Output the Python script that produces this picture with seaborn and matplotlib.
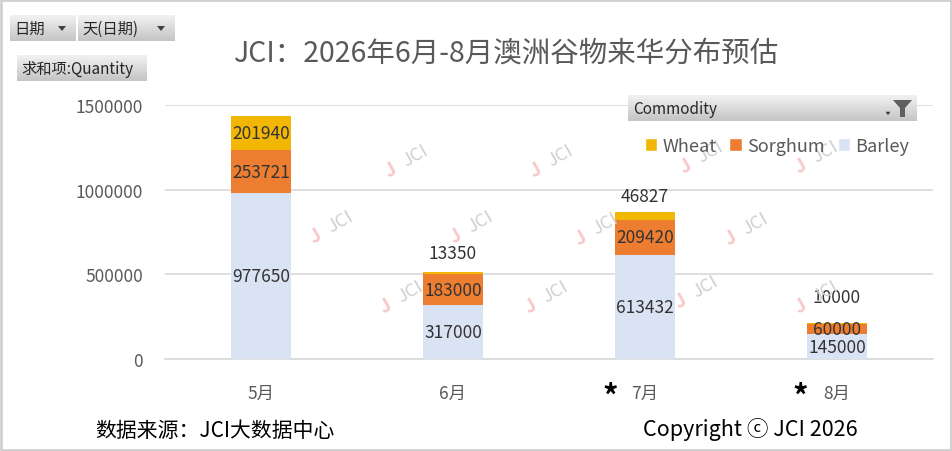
import matplotlib
matplotlib.use("Agg")
import matplotlib.pyplot as plt
import seaborn as sns
import pandas as pd
import numpy as np
from matplotlib.patches import Rectangle, Polygon, Patch
from matplotlib.colors import LinearSegmentedColormap

# ---------------- data ----------------
months = ["5月", "6月", "7月", "8月"]
barley = [977650, 317000, 613432, 145000]
sorghum = [253721, 183000, 209420, 60000]
wheat = [201940, 13350, 46827, 10000]
series_names = ["Wheat", "Sorghum", "Barley"]
yticks = [0, 500000, 1000000, 1500000]
title = "JCI：2026年6月-8月澳洲谷物来华分布预估"
source_text = "数据来源：JCI大数据中心"
copyright_text = "Copyright ⓒ JCI 2026"

# ---------------- style ----------------
sns.set_theme(style="white")
FONT = ["Noto Sans CJK SC", "DejaVu Sans"]
plt.rcParams["font.family"] = FONT
C_WHEAT = "#F2B705"
C_SORG = "#ED7D31"
C_BARL = "#DAE3F3"
GRID = "#D9D9D9"
TXT = "#595959"

W, H = 953, 452
fig = plt.figure(figsize=(W / 100, H / 100), dpi=100)
fig.patch.set_facecolor("white")

def fx(px):
    return px / W

def fy(py):
    return 1 - py / H

ax = fig.add_axes([fx(165), fy(360), fx(933) - fx(165), fy(106) - fy(360)])

df = pd.DataFrame({"month": months, "Barley": barley, "Sorghum": sorghum, "Wheat": wheat})
df["s2"] = df["Barley"] + df["Sorghum"]
df["s3"] = df["s2"] + df["Wheat"]

bw = 60 / 192
bar_kw = dict(width=bw, ax=ax, saturation=1, linewidth=0, edgecolor="none", zorder=3)
sns.barplot(data=df, x="month", y="s3", color=C_WHEAT, **bar_kw)
sns.barplot(data=df, x="month", y="s2", color=C_SORG, **bar_kw)
sns.barplot(data=df, x="month", y="Barley", color=C_BARL, **bar_kw)

ax.set_ylim(0, 1500000)
ax.set_xlim(-0.5, 3.5)
ax.set_yticks(yticks)
ax.set_yticklabels([str(v) for v in yticks])
ax.set_xlabel("")
ax.set_ylabel("")
ax.yaxis.grid(True, color=GRID, linewidth=1.2, zorder=0)
ax.set_axisbelow(True)
for s in ["top", "right", "left"]:
    ax.spines[s].set_visible(False)
ax.spines["bottom"].set_color(GRID)
ax.spines["bottom"].set_linewidth(1.2)
ax.tick_params(axis="both", length=0, colors=TXT, labelsize=12.5)
ax.tick_params(axis="y", pad=16)
ax.tick_params(axis="x", pad=18)
for t in ax.get_xticklabels() + ax.get_yticklabels():
    t.set_color(TXT)

# data labels
lab_kw = dict(ha="center", va="center", fontsize=12.5, color="#333333", zorder=6)
wheat_offsets = [None, 19, 16, 26]  # px above the stack top for small segments
for i in range(len(months)):
    ax.text(i, barley[i] / 2, str(barley[i]), **lab_kw)
    ax.text(i, barley[i] + sorghum[i] / 2, str(sorghum[i]), **lab_kw)
    top = barley[i] + sorghum[i] + wheat[i]
    if wheat_offsets[i] is None:
        ax.text(i, barley[i] + sorghum[i] + wheat[i] / 2, str(wheat[i]), **lab_kw)
    else:
        ax.annotate(str(wheat[i]), (i, top), xytext=(0, wheat_offsets[i] * 0.72),
                    textcoords="offset points", **lab_kw)

# watermarks
wm = [(405, 162), (550, 162), (700, 158), (815, 158),
      (330, 228), (470, 228), (595, 230), (745, 230),
      (400, 298), (545, 298), (695, 293), (815, 298)]
for (x, y) in wm:
    fig.text(fx(x - 14), fy(y + 8), "J", fontsize=14, color="#F8C8C8", rotation=30,
             ha="center", va="center", fontweight="bold", zorder=5)
    fig.text(fx(x + 10), fy(y - 6), "JCI", fontsize=13, color="#D0D0D0", rotation=30,
             ha="center", va="center", zorder=5)

# title
fig.text(fx(507), fy(54), title, fontsize=20.5, color=TXT, ha="center", va="center")

# legend
handles = [Patch(facecolor=C_WHEAT), Patch(facecolor=C_SORG), Patch(facecolor=C_BARL)]
leg = fig.legend(handles, series_names, ncol=3, loc="center",
                 bbox_to_anchor=(fx(777), fy(147)), frameon=False, fontsize=13,
                 handlelength=0.7, handleheight=0.7, handletextpad=0.3, columnspacing=0.7,
                 labelcolor=TXT)

# grey gradient buttons
grad = np.linspace(0, 1, 64).reshape(-1, 1)
cmap = LinearSegmentedColormap.from_list("btn", ["#F2F2F2", "#C4C4C4"])

def button(x0, y0, x1, y1):
    bax = fig.add_axes([fx(x0), fy(y1), fx(x1) - fx(x0), fy(y0) - fy(y1)])
    bax.imshow(grad, aspect="auto", cmap=cmap, extent=(0, 1, 0, 1), origin="upper")
    bax.set_axis_off()
    return bax

def arrow(x, y, s=4):
    fig.patches.append(Polygon([[fx(x - s), fy(y - s / 2)], [fx(x + s), fy(y - s / 2)],
                                [fx(x), fy(y + s / 2 + 1)]], closed=True,
                               transform=fig.transFigure, facecolor="#404040",
                               edgecolor="none"))

button(10, 16, 76, 42)
fig.text(fx(14), fy(29), "日期", fontsize=11, color="#262626", ha="left", va="center")
arrow(62, 29)
button(78, 16, 175, 42)
fig.text(fx(82), fy(29), "天(日期)", fontsize=11, color="#262626", ha="left", va="center")
arrow(161, 29)
button(17, 56, 147, 82)
fig.text(fx(21), fy(69), "求和项:Quantity", fontsize=11, color="#262626", ha="left", va="center")

button(628, 96, 917, 122)
fig.text(fx(633), fy(109), "Commodity", fontsize=11, color="#262626", ha="left", va="center")
fig.patches.append(Polygon([[fx(893), fy(101)], [fx(912), fy(101)], [fx(905), fy(109)],
                            [fx(905), fy(118)], [fx(900), fy(118)], [fx(900), fy(109)]],
                           closed=True, transform=fig.transFigure, facecolor="#606060",
                           edgecolor="none"))
arrow(888, 114, s=2.5)

# asterisks
fig.text(fx(610), fy(398), "*", fontsize=22, color="black", ha="center", va="center",
         fontweight="bold")
fig.text(fx(800), fy(398), "*", fontsize=22, color="black", ha="center", va="center",
         fontweight="bold")

# footer texts
fig.text(fx(95), fy(431), source_text, fontsize=15, color="black", ha="left", va="center")
fig.text(fx(643), fy(430), copyright_text, fontsize=15.5, color="black", ha="left",
         va="center", family=FONT)

# figure border
fig.patches.append(Rectangle((0.001, 0.002), 0.997, 0.995, transform=fig.transFigure,
                             facecolor="none", edgecolor="#D0D0D0", linewidth=2))

fig.savefig("out.png", dpi=100, facecolor="white")
